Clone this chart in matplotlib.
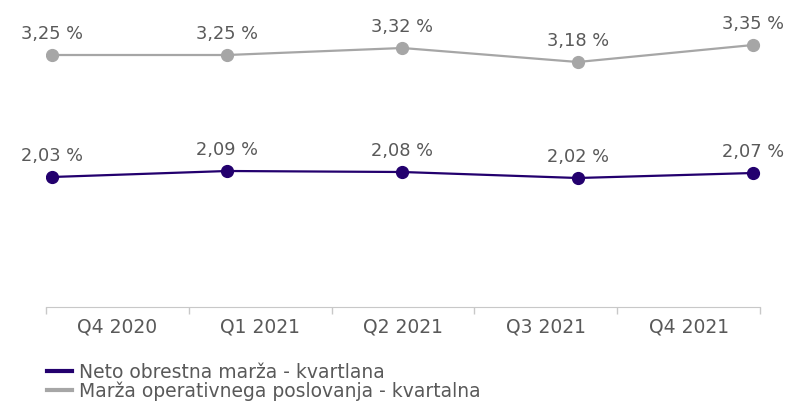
import numpy as np
import matplotlib.pyplot as plt

# Data
quarters = ['Q4 2020', 'Q1 2021', 'Q2 2021', 'Q3 2021', 'Q4 2021']
nim = [2.03, 2.09, 2.08, 2.02, 2.07]          # Neto obrestna marža - kvartlana
opm = [3.25, 3.25, 3.32, 3.18, 3.35]          # Marža operativnega poslovanja - kvartalna
nim_label = 'Neto obrestna marža - kvartlana'
opm_label = 'Marža operativnega poslovanja - kvartalna'

purple = '#23006e'
gray = '#a6a6a6'
text_col = '#595959'

plt.rcParams['font.family'] = ['DejaVu Sans']

fig = plt.figure(figsize=(7.88, 4.05), dpi=100)
ax = fig.add_axes([0.0584, 0.2427, 0.9061, 0.7573])

x = np.arange(len(quarters))
ax.plot(x, nim, color=purple, lw=1.6, marker='o', ms=8.5, label=nim_label, zorder=3)
ax.plot(x, opm, color=gray, lw=1.6, marker='o', ms=8.5, label=opm_label, zorder=3)

for xi, v in zip(x, nim):
    ax.annotate(f'{v:.2f} %'.replace('.', ','), (xi, v), xytext=(0, 9),
                textcoords='offset points', ha='center', va='bottom',
                fontsize=12.8, color=text_col)
for xi, v in zip(x, opm):
    ax.annotate(f'{v:.2f} %'.replace('.', ','), (xi, v), xytext=(0, 9),
                textcoords='offset points', ha='center', va='bottom',
                fontsize=12.8, color=text_col)

# category axis: boundaries wider than the point span
xmin, xmax = -0.034, 4.04
ax.set_xlim(xmin, xmax)
ax.set_ylim(0.733, 3.80)
w = (xmax - xmin) / len(quarters)
ax.set_xticks([xmin + (i + 0.5) * w for i in range(len(quarters))])
ax.set_xticklabels(quarters, fontsize=13.5, color=text_col)
ax.set_xticks([xmin + i * w for i in range(len(quarters) + 1)], minor=True)
ax.tick_params(axis='x', which='major', length=0, pad=8)
ax.tick_params(axis='x', which='minor', length=5, color='#c8c8c8', width=1)
ax.set_yticks([])
for s in ['top', 'right', 'left']:
    ax.spines[s].set_visible(False)
ax.spines['bottom'].set_color('#c8c8c8')

leg = fig.legend(loc='upper left', bbox_to_anchor=(0.048, 0.128), frameon=False,
                 fontsize=13.5, handlelength=1.3, handletextpad=0.37,
                 labelspacing=0.0, borderpad=0)
for line in leg.get_lines():
    line.set_marker('')
    line.set_linewidth(3)
for t in leg.get_texts():
    t.set_color(text_col)

plt.savefig('out.png', dpi=100)
